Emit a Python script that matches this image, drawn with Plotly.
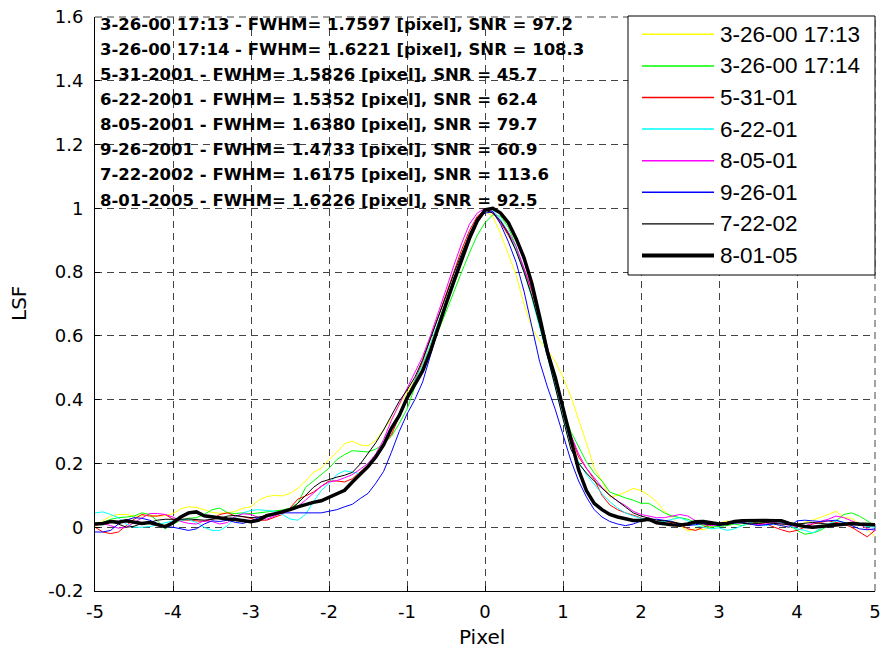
import numpy as np
import plotly.graph_objects as go

# ---------------- data ----------------
x_pixel = np.round(np.linspace(-5, 5, 101), 1)

legend_names = ["3-26-00 17:13", "3-26-00 17:14", "5-31-01", "6-22-01",
                "8-05-01", "9-26-01", "7-22-02", "8-01-05"]

info_lines = [
    "3-26-00 17:13 - FWHM= 1.7597 [pixel], SNR = 97.2",
    "3-26-00 17:14 - FWHM= 1.6221 [pixel], SNR = 108.3",
    "5-31-2001 - FWHM= 1.5826 [pixel], SNR = 45.7",
    "6-22-2001 - FWHM= 1.5352 [pixel], SNR = 62.4",
    "8-05-2001 - FWHM= 1.6380 [pixel], SNR = 79.7",
    "9-26-2001 - FWHM= 1.4733 [pixel], SNR = 60.9",
    "7-22-2002 - FWHM= 1.6175 [pixel], SNR = 113.6",
    "8-01-2005 - FWHM= 1.6226 [pixel], SNR = 92.5",
]

x_tick_vals = [-5, -4, -3, -2, -1, 0, 1, 2, 3, 4, 5]
x_tick_text = ["-5", "-4", "-3", "-2", "-1", "0", "1", "2", "3", "4", "5"]
y_tick_vals = [-0.2, 0, 0.2, 0.4, 0.6, 0.8, 1.0, 1.2, 1.4, 1.6]
y_tick_text = ["-0.2", "0", "0.2", "0.4", "0.6", "0.8", "1", "1.2", "1.4", "1.6"]

lsf_032600_1713 = [
    0.000, 0.020, 0.035, 0.040, 0.040, 0.035, 0.035, 0.038, 0.035, 0.036,
    0.043, 0.058, 0.064, 0.062, 0.055, 0.046, 0.044, 0.045, 0.050, 0.060,
    0.064, 0.085, 0.096, 0.100, 0.098, 0.106, 0.122, 0.145, 0.172, 0.185,
    0.212, 0.235, 0.262, 0.270, 0.258, 0.255, 0.272, 0.305, 0.340, 0.382,
    0.420, 0.462, 0.510, 0.570, 0.640, 0.710, 0.780, 0.850, 0.910, 0.960,
    0.990, 0.975, 0.920, 0.855, 0.790, 0.700, 0.625, 0.585, 0.555, 0.520,
    0.470, 0.410, 0.340, 0.265, 0.185, 0.145, 0.095, 0.100, 0.110, 0.122,
    0.115, 0.100, 0.080, 0.050, 0.030, 0.005, -0.012, -0.005, -0.008, 0.002,
    0.012, 0.020, 0.012, 0.025, 0.015, 0.010, 0.018, 0.010, 0.005, 0.000,
    0.005, 0.015, 0.022, 0.030, 0.040, 0.050, 0.030, 0.028, 0.010, -0.005,
    -0.030]

lsf_032600_1714 = [
    0.010, 0.015, 0.025, 0.030, 0.032, 0.035, 0.045, 0.040, 0.020, -0.005,
    0.010, 0.022, 0.028, 0.030, 0.040, 0.055, 0.060, 0.045, 0.043, 0.045,
    0.042, 0.045, 0.048, 0.052, 0.054, 0.060, 0.075, 0.125, 0.145, 0.165,
    0.185, 0.212, 0.228, 0.240, 0.238, 0.236, 0.245, 0.262, 0.285, 0.325,
    0.370, 0.440, 0.500, 0.555, 0.615, 0.675, 0.740, 0.800, 0.860, 0.915,
    0.955, 0.980, 0.975, 0.940, 0.880, 0.805, 0.725, 0.635, 0.545, 0.455,
    0.370, 0.300, 0.250, 0.205, 0.170, 0.145, 0.110, 0.100, 0.092, 0.085,
    0.075, 0.075, 0.060, 0.045, 0.035, 0.030, 0.025, 0.015, 0.005, 0.000,
    0.002, 0.005, 0.010, 0.005, 0.012, 0.015, 0.018, 0.025, 0.020, 0.008,
    -0.010, -0.022, -0.018, -0.010, 0.005, 0.020, 0.040, 0.045, 0.035, 0.020,
    0.005]

lsf_053101 = [
    0.000, -0.015, -0.020, -0.015, 0.005, 0.025, 0.040, 0.035, 0.035, 0.040,
    0.025, 0.022, 0.022, 0.020, 0.018, 0.025, 0.040, 0.045, 0.035, 0.033,
    0.028, 0.022, 0.022, 0.030, 0.040, 0.060, 0.088, 0.098, 0.110, 0.128,
    0.145, 0.145, 0.142, 0.152, 0.172, 0.195, 0.220, 0.262, 0.290, 0.345,
    0.400, 0.460, 0.520, 0.590, 0.660, 0.730, 0.800, 0.870, 0.930, 0.975,
    0.995, 0.985, 0.955, 0.915, 0.870, 0.810, 0.740, 0.650, 0.560, 0.460,
    0.370, 0.290, 0.220, 0.185, 0.150, 0.100, 0.070, 0.055, 0.045, 0.038,
    0.030, 0.020, 0.015, 0.010, 0.015, 0.010, -0.005, -0.010, 0.000, 0.010,
    0.005, 0.015, 0.020, 0.022, 0.018, 0.012, 0.010, 0.000, -0.008, -0.015,
    -0.010, 0.000, 0.010, 0.015, 0.020, 0.015, 0.010, 0.000, -0.015, -0.030,
    -0.010]

lsf_062201 = [
    0.045, 0.048, 0.040, 0.030, 0.010, 0.000, 0.000, 0.002, 0.008, 0.015,
    0.020, 0.022, 0.024, 0.015, 0.000, -0.010, -0.010, 0.005, 0.030, 0.045,
    0.053, 0.055, 0.052, 0.050, 0.040, 0.026, 0.022, 0.040, 0.080, 0.115,
    0.137, 0.165, 0.177, 0.172, 0.168, 0.190, 0.215, 0.255, 0.305, 0.355,
    0.405, 0.455, 0.510, 0.575, 0.640, 0.710, 0.780, 0.850, 0.910, 0.960,
    0.990, 0.995, 0.965, 0.925, 0.870, 0.800, 0.720, 0.630, 0.535, 0.440,
    0.345, 0.262, 0.205, 0.165, 0.136, 0.105, 0.080, 0.060, 0.045, 0.035,
    0.028, 0.020, 0.015, 0.018, 0.025, 0.030, 0.020, 0.005, 0.000, -0.005,
    -0.002, -0.010, -0.005, 0.005, 0.015, 0.010, 0.005, 0.010, 0.015, 0.005,
    -0.005, -0.010, -0.018, -0.005, 0.010, 0.020, 0.015, 0.010, 0.005, 0.002,
    0.000]

lsf_080501 = [
    0.005, 0.012, 0.005, -0.003, 0.000, 0.015, 0.030, 0.043, 0.043, 0.040,
    0.032, 0.018, 0.012, 0.010, 0.020, 0.018, 0.010, 0.015, 0.035, 0.042,
    0.040, 0.030, 0.025, 0.035, 0.045, 0.053, 0.065, 0.085, 0.108, 0.128,
    0.142, 0.146, 0.155, 0.165, 0.182, 0.200, 0.230, 0.275, 0.335, 0.385,
    0.430, 0.480, 0.535, 0.600, 0.670, 0.745, 0.820, 0.890, 0.950, 0.985,
    1.000, 0.990, 0.960, 0.925, 0.880, 0.815, 0.745, 0.660, 0.565, 0.470,
    0.375, 0.290, 0.230, 0.185, 0.155, 0.125, 0.100, 0.082, 0.068, 0.050,
    0.040, 0.035, 0.030, 0.030, 0.035, 0.040, 0.035, 0.020, 0.010, 0.005,
    0.008, 0.012, 0.018, 0.015, 0.010, 0.008, 0.010, 0.015, 0.010, 0.005,
    0.002, 0.005, 0.012, 0.018, 0.025, 0.035, 0.030, 0.020, 0.010, -0.005,
    -0.010]

lsf_092601 = [
    -0.015, -0.015, -0.010, 0.010, 0.022, 0.030, 0.028, 0.022, 0.012, 0.002,
    0.000, -0.005, -0.010, -0.005, 0.010, 0.020, 0.018, 0.022, 0.015, 0.012,
    0.020, 0.030, 0.038, 0.042, 0.045, 0.045, 0.045, 0.045, 0.045, 0.045,
    0.050, 0.055, 0.064, 0.072, 0.090, 0.106, 0.138, 0.175, 0.235, 0.300,
    0.355, 0.400, 0.455, 0.540, 0.625, 0.705, 0.780, 0.850, 0.915, 0.965,
    0.985, 0.990, 0.950, 0.895, 0.830, 0.740, 0.630, 0.520, 0.440, 0.370,
    0.290, 0.210, 0.145, 0.095, 0.055, 0.032, 0.018, 0.010, 0.005, 0.010,
    0.020, 0.025, 0.025, 0.022, 0.018, 0.010, 0.005, 0.008, 0.012, 0.010,
    0.005, 0.010, 0.012, 0.015, 0.010, 0.005, 0.008, 0.010, 0.005, 0.000,
    0.020, 0.022, 0.020, 0.018, 0.020, 0.022, 0.015, 0.005, -0.005, -0.008,
    -0.005]

lsf_072202 = [
    0.010, 0.015, 0.018, 0.010, 0.000, 0.003, 0.012, 0.015, 0.022, 0.025,
    0.024, 0.025, 0.026, 0.023, 0.022, 0.025, 0.028, 0.035, 0.037, 0.033,
    0.030, 0.032, 0.038, 0.042, 0.045, 0.055, 0.075, 0.100, 0.125, 0.142,
    0.150, 0.157, 0.163, 0.172, 0.198, 0.230, 0.265, 0.305, 0.350, 0.395,
    0.430, 0.470, 0.525, 0.590, 0.655, 0.725, 0.795, 0.860, 0.920, 0.970,
    0.995, 0.985, 0.960, 0.920, 0.865, 0.800, 0.725, 0.635, 0.540, 0.440,
    0.340, 0.245, 0.200, 0.170, 0.145, 0.122, 0.100, 0.082, 0.062, 0.045,
    0.035, 0.028, 0.022, 0.020, 0.015, 0.012, 0.010, 0.012, 0.010, 0.008,
    0.010, 0.015, 0.015, 0.012, 0.010, 0.012, 0.015, 0.012, 0.010, 0.008,
    0.010, 0.012, 0.015, 0.012, 0.010, 0.012, 0.010, 0.008, 0.006, 0.005,
    0.005]

lsf_080105 = [
    0.010, 0.012, 0.018, 0.016, 0.020, 0.017, 0.012, 0.015, 0.008, 0.002,
    0.014, 0.032, 0.045, 0.048, 0.036, 0.032, 0.030, 0.026, 0.024, 0.020,
    0.017, 0.022, 0.036, 0.042, 0.048, 0.055, 0.064, 0.072, 0.078, 0.083,
    0.094, 0.104, 0.116, 0.142, 0.165, 0.190, 0.220, 0.258, 0.310, 0.350,
    0.405, 0.445, 0.490, 0.552, 0.630, 0.700, 0.770, 0.840, 0.905, 0.960,
    0.995, 1.000, 0.985, 0.955, 0.905, 0.845, 0.765, 0.660, 0.550, 0.470,
    0.375, 0.275, 0.180, 0.115, 0.075, 0.055, 0.040, 0.032, 0.026, 0.021,
    0.021, 0.025, 0.014, 0.010, 0.008, 0.006, 0.010, 0.017, 0.018, 0.014,
    0.010, 0.012, 0.018, 0.020, 0.021, 0.020, 0.021, 0.020, 0.020, 0.012,
    0.006, 0.002, 0.000, 0.002, 0.004, 0.008, 0.010, 0.012, 0.010, 0.008,
    0.008]

series_values = [lsf_032600_1713, lsf_032600_1714, lsf_053101, lsf_062201,
                 lsf_080501, lsf_092601, lsf_072202, lsf_080105]

# ---------------- style ----------------
line_colors = ["#ffff00", "#00ff00", "#ff0000", "#00ffff",
               "#ff00ff", "#0000ff", "#000000", "#000000"]
line_widths = [1, 1, 1, 1, 1, 1, 1, 3.5]
legend_line_widths = [1.5, 1.5, 1.5, 1.5, 1.5, 1.5, 1.2, 4]
GRID_COLOR = "#444444"
GRID_DASH = "7px,5px"

W, H = 880, 648
# plot area in screen (reference) pixels
L, R, T, B = 95, 875, 17, 591


def px_x(px):
    return (px - L) / (R - L)


def px_y(py):
    return (B - py) / (B - T)


fig = go.Figure()
for name, vals, col, lw in zip(legend_names, series_values, line_colors, line_widths):
    fig.add_trace(go.Scatter(x=x_pixel, y=vals, mode="lines", name=name,
                             line=dict(color=col, width=lw), showlegend=False))

axis_common = dict(showline=True, linecolor="black", linewidth=1, mirror=False,
                   ticks="inside", ticklen=5, tickcolor="black", tickwidth=1,
                   showgrid=True, gridcolor=GRID_COLOR, gridwidth=1,
                   griddash=GRID_DASH, zeroline=False, ticklabeloverflow="allow",
                   automargin=False,
                   tickfont=dict(family="DejaVu Sans", size=18, color="black"))

fig.update_xaxes(range=[-5, 5], tickvals=x_tick_vals, ticktext=x_tick_text,
                 ticklabelstandoff=4, **axis_common)
fig.update_yaxes(range=[-0.2, 1.6], tickvals=y_tick_vals, ticktext=y_tick_text,
                 ticklabelstandoff=7, **axis_common)

annotations = []
shapes = []

# dashed grid lines along the top and right edges (box off in original)
shapes.append(dict(type="line", xref="paper", yref="paper", x0=0, x1=1, y0=1, y1=1,
                   line=dict(color=GRID_COLOR, width=1, dash=GRID_DASH), layer="below"))
shapes.append(dict(type="line", xref="paper", yref="paper", x0=1, x1=1, y0=0, y1=1,
                   line=dict(color=GRID_COLOR, width=1, dash=GRID_DASH), layer="below"))

# info text lines (bold, top left)
for i, txt in enumerate(info_lines):
    annotations.append(dict(xref="paper", yref="paper", x=px_x(98), y=px_y(24 + i * 25.15),
                            xanchor="left", yanchor="middle", showarrow=False,
                            text="<b>" + txt + "</b>",
                            font=dict(family="DejaVu Sans", size=16.5, color="black")))

# legend box
shapes.append(dict(type="rect", xref="paper", yref="paper",
                   x0=px_x(628), x1=px_x(875), y0=px_y(275), y1=px_y(16),
                   line=dict(color="black", width=1), fillcolor="white", layer="above"))
for i, (name, col, lw) in enumerate(zip(legend_names, line_colors, legend_line_widths)):
    yy = px_y(34.3 + i * 31.6)
    shapes.append(dict(type="line", xref="paper", yref="paper",
                       x0=px_x(642), x1=px_x(714), y0=yy, y1=yy,
                       line=dict(color=col, width=lw), layer="above"))
    annotations.append(dict(xref="paper", yref="paper", x=px_x(718), y=yy,
                            xanchor="left", yanchor="middle", showarrow=False,
                            text=name,
                            font=dict(family="Liberation Sans, Arial", size=22.5, color="black")))

# axis titles
annotations.append(dict(xref="paper", yref="paper", x=px_x(482), y=px_y(637),
                        xanchor="center", yanchor="middle", showarrow=False, text="Pixel",
                        font=dict(family="DejaVu Sans", size=20, color="black")))
annotations.append(dict(xref="paper", yref="paper", x=px_x(19), y=px_y(304),
                        xanchor="center", yanchor="middle", showarrow=False, text="LSF",
                        textangle=-90,
                        font=dict(family="DejaVu Sans", size=20, color="black")))

fig.update_layout(width=W, height=H,
                  margin=dict(l=L, r=W - R, t=T, b=H - B, pad=0, autoexpand=False),
                  paper_bgcolor="white", plot_bgcolor="white",
                  annotations=annotations, shapes=shapes, showlegend=False)

# place the figure flush with the window corner (remove the default body margin)
fig.write_html("out.html", config={"displayModeBar": False},
               post_script="document.body.style.margin='0px';document.body.style.overflow='hidden';")
